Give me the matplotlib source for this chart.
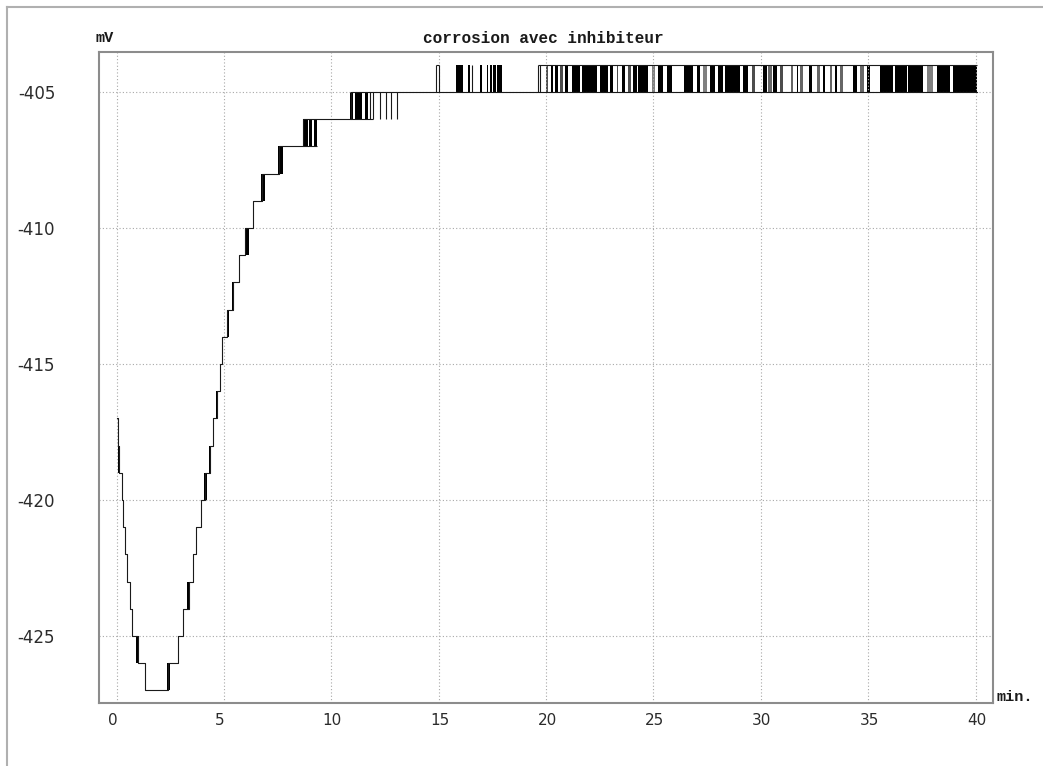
import matplotlib
matplotlib.use('Agg')
import matplotlib.pyplot as plt
import matplotlib.transforms as mtransforms
from matplotlib.lines import Line2D

# main potential curve: time (min) at which each level (mV) starts
main_t = [0.0, 0.05, 0.13, 0.24, 0.31, 0.40, 0.50, 0.62, 0.73, 1.01, 1.32,
          2.41, 2.87, 3.07, 3.35, 3.56, 3.72, 3.95, 4.12, 4.33, 4.49, 4.66,
          4.80, 4.89, 5.12, 5.40, 5.71, 5.97, 6.36, 6.75, 7.56, 8.69, 10.90,
          40.05]
main_mv = [-417, -418, -419, -420, -421, -422, -423, -424, -425, -426, -427,
           -426, -425, -424, -423, -422, -421, -420, -419, -418, -417, -416,
           -415, -414, -413, -412, -411, -410, -409, -408, -407, -406, -405,
           -405]

# flicker on the way down/up: (start, end, low level, high level)
step_flicker = [
    (0.07, 0.15, -419, -418), (0.70, 0.78, -425, -424),
    (0.88, 1.05, -426, -425), (2.36, 2.48, -427, -426),
    (3.29, 3.41, -424, -423), (4.07, 4.19, -420, -419),
    (4.30, 4.36, -419, -418), (4.62, 4.71, -417, -416),
    (5.12, 5.25, -414, -413), (5.39, 5.48, -413, -412),
    (5.97, 6.17, -411, -410), (6.72, 6.91, -409, -408),
    (7.53, 7.76, -408, -407), (8.66, 8.90, -407, -406),
    (8.98, 9.12, -407, -406), (9.20, 9.31, -407, -406),
    (10.87, 11.02, -406, -405), (11.10, 11.42, -406, -405),
    (11.55, 11.72, -406, -405),
]

# single switching spikes: (time, low, high)
spikes = [(11.82, -406, -405), (11.92, -406, -405), (12.26, -406, -405),
          (12.54, -406, -405), (12.80, -406, -405), (13.07, -406, -405),
          (14.86, -405, -404), (15.03, -405, -404), (16.53, -405, -404),
          (19.64, -405, -404), (19.72, -405, -404)]

# extra horizontal stretches where a second level is held
held = [(-407, 8.69, 9.31), (-406, 10.90, 11.95), (-404, 14.86, 15.03),
        (-404, 19.64, 40.05)]

# dense flicker between -405 and -404 mV: (start, end, shade)
top_bands = [
    (15.80, 16.11, 'k'), (16.38, 16.46, 'k'), (16.92, 17.01, 'k'),
    (17.23, 17.30, 'k'), (17.40, 17.47, 'k'), (17.54, 17.66, 'k'),
    (17.72, 17.93, 'k'), (20.00, 20.10, '0.3'), (20.23, 20.33, 'k'),
    (20.41, 20.57, 'k'), (20.65, 20.80, '0.3'), (20.88, 21.03, 'k'),
    (21.19, 21.60, 'k'), (21.65, 22.36, 'k'), (22.51, 22.90, 'k'),
    (22.98, 23.13, 'k'), (23.29, 23.36, '0.3'), (23.52, 23.67, 'k'),
    (23.83, 23.94, '0.3'), (24.06, 24.22, 'k'), (24.30, 24.76, 'k'),
    (24.92, 25.07, '0.5'), (25.22, 25.46, 'k'), (25.62, 25.85, 'k'),
    (26.44, 26.86, 'k'), (27.02, 27.17, 'k'), (27.32, 27.51, '0.5'),
    (27.63, 27.87, 'k'), (28.02, 28.25, 'k'), (28.33, 29.03, 'k'),
    (29.18, 29.42, 'k'), (29.57, 29.73, '0.3'), (30.12, 30.28, 'k'),
    (30.35, 30.51, '0.4'), (30.58, 30.74, 'k'), (30.89, 31.05, '0.3'),
    (31.40, 31.50, '0.4'), (31.67, 31.75, 'k'), (31.83, 31.98, '0.4'),
    (32.22, 32.37, 'k'), (32.60, 32.76, '0.4'), (32.91, 32.99, 'k'),
    (33.22, 33.30, '0.4'), (33.46, 33.56, 'k'), (33.69, 33.84, '0.4'),
    (34.31, 34.46, 'k'), (34.62, 34.78, '0.4'), (34.96, 35.09, 'k'),
    (35.55, 36.17, 'k'), (36.25, 36.79, 'k'), (36.87, 37.57, 'k'),
    (37.72, 38.03, '0.5'), (38.19, 38.81, 'k'), (38.97, 40.05, 'k'),
]

x_ticks = [0, 5, 10, 15, 20, 25, 30, 35, 40]
y_ticks = [-425, -420, -415, -410, -405]

fig = plt.figure(figsize=(10.43, 7.66), dpi=100)
ax = fig.add_axes([99 / 1043, 1 - 703 / 766, 894 / 1043, 651 / 766])

line_c = '#1a1a1a'
ax.step(main_t, main_mv, where='post', color=line_c, lw=0.8)
for t0, t1, lo, hi in step_flicker:
    ax.fill_between([t0, t1], lo, hi, color='k', lw=0)
for t, lo, hi in spikes:
    ax.vlines(t, lo, hi, color=line_c, lw=0.8)
for lvl, t0, t1 in held:
    ax.hlines(lvl, t0, t1, color=line_c, lw=0.8)
for t0, t1, shade in top_bands:
    ax.fill_between([t0, t1], -405, -404, color=shade, lw=0)

ax.set_xlim(-0.82, 40.81)
ax.set_ylim(-427.46, -403.53)
ax.set_xticks(x_ticks)
ax.set_yticks(y_ticks)
ax.set_yticklabels([str(v) for v in y_ticks])
ax.grid(True, color='#a8a8a8', linestyle=(0, (1, 2)), lw=0.8)
ax.tick_params(length=0, colors='#2b2b2b')
ax.tick_params(axis='x', labelsize=11, pad=7)
ax.tick_params(axis='y', labelsize=12, pad=31.5)
for sp in ax.spines.values():
    sp.set_color('#8c8c8c')
    sp.set_linewidth(1.5)

# x labels start a little left of their grid line
offset = mtransforms.ScaledTranslation(-8.7 / 100, 0, fig.dpi_scale_trans)
for lab in ax.get_xticklabels():
    lab.set_ha('left')
    lab.set_transform(lab.get_transform() + offset)

mono = dict(family='Liberation Mono', weight='bold', color='#1a1a1a')
fig.text(543 / 1043, 1 - 43 / 766, 'corrosion avec inhibiteur', ha='center',
         va='baseline', fontsize=11.5, **mono)
fig.text(96 / 1043, 1 - 42 / 766, 'mV', ha='left', va='baseline',
         fontsize=11, **mono)
fig.text(997 / 1043, 1 - 701 / 766, 'min.', ha='left', va='baseline',
         fontsize=11, **mono)

# outer window frame (top and left edges)
fig.add_artist(Line2D([7 / 1043, 1.0], [1 - 7 / 766, 1 - 7 / 766],
                      transform=fig.transFigure, color='#b0b0b0', lw=1.5))
fig.add_artist(Line2D([7 / 1043, 7 / 1043], [0.0, 1 - 7 / 766],
                      transform=fig.transFigure, color='#b0b0b0', lw=1.5))

plt.savefig('out.png', dpi=100)
